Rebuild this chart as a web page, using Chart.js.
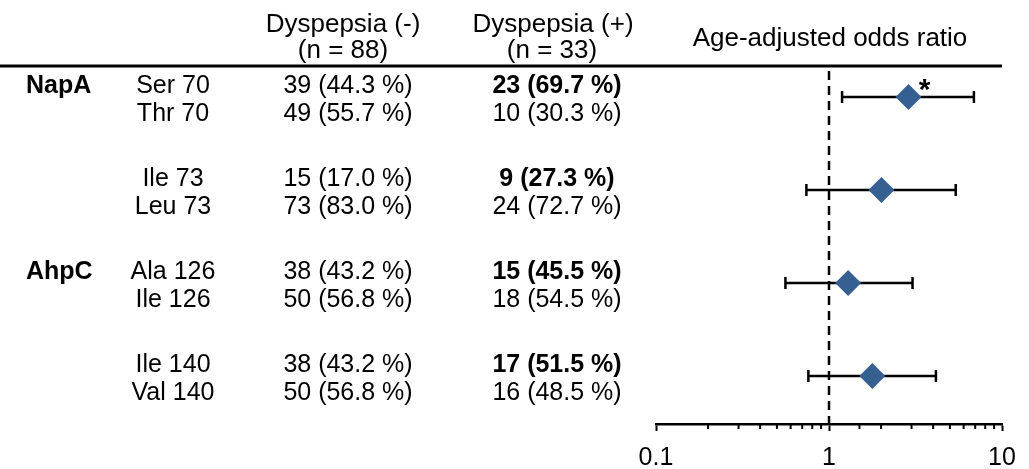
<!DOCTYPE html>
<html>
<head>
  <meta charset="utf-8">
  <title>Dyspepsia forest plot</title>
  <script src="https://cdn.jsdelivr.net/npm/chart.js"></script>
  <style>
    body { margin: 0; padding: 0; background: #fff; }
    #wrap { width: 1029px; height: 469px; }
  </style>
</head>
<body>
  <div id="wrap"><canvas id="forest"></canvas></div>

  <script>
    // --- data ---
    const genes = ['NapA', '', 'AhpC', ''];
    const allelesTop = ['Ser 70', 'Ile 73', 'Ala 126', 'Ile 140'];
    const allelesBottom = ['Thr 70', 'Leu 73', 'Ile 126', 'Val 140'];
    const negTop = ['39 (44.3 %)', '15 (17.0 %)', '38 (43.2 %)', '38 (43.2 %)'];
    const negBottom = ['49 (55.7 %)', '73 (83.0 %)', '50 (56.8 %)', '50 (56.8 %)'];
    const posTop = ['23 (69.7 %)', '9 (27.3 %)', '15 (45.5 %)', '17 (51.5 %)'];
    const posBottom = ['10 (30.3 %)', '24 (72.7 %)', '18 (54.5 %)', '16 (48.5 %)'];
    const headerNeg = ['Dyspepsia (-)', '(n = 88)'];
    const headerPos = ['Dyspepsia (+)', '(n = 33)'];
    const plotTitle = 'Age-adjusted odds ratio';

    const oddsRatio = [2.88, 2.01, 1.29, 1.78];
    const ciLower = [1.19, 0.74, 0.56, 0.76];
    const ciUpper = [6.88, 5.40, 3.04, 4.15];
    const significant = ['*', '', '', ''];
    const refLine = 1;
    const tickLabels = [0.1, 1, 10];

    const FONT = "'Liberation Sans', Arial, sans-serif";
    const BLUE = '#366092';

    function txt(ctx, s, x, y, bold, align, size) {
      ctx.font = (bold ? 'bold ' : '') + (size || 25) + 'px ' + FONT;
      ctx.textAlign = align || 'center';
      ctx.textBaseline = 'middle';
      ctx.fillText(s, x, y);
    }

    const forestPlugin = {
      id: 'forest',
      beforeDatasetsDraw(chart) {
        const { ctx, chartArea, scales: { x, y } } = chart;
        ctx.save();
        ctx.strokeStyle = '#000';
        // dashed reference line at OR = 1
        ctx.lineWidth = 2.5;
        ctx.setLineDash([9, 6]);
        const xr = x.getPixelForValue(refLine);
        ctx.beginPath();
        ctx.moveTo(xr, chartArea.top + 5);
        ctx.lineTo(xr, chartArea.bottom);
        ctx.stroke();
        ctx.setLineDash([]);
        // confidence intervals
        ctx.lineWidth = 2.5;
        oddsRatio.forEach((_, i) => {
          const yp = y.getPixelForValue(i);
          const xl = x.getPixelForValue(ciLower[i]);
          const xu = x.getPixelForValue(ciUpper[i]);
          ctx.beginPath();
          ctx.moveTo(xl, yp); ctx.lineTo(xu, yp);
          ctx.moveTo(xl, yp - 6); ctx.lineTo(xl, yp + 6);
          ctx.moveTo(xu, yp - 6); ctx.lineTo(xu, yp + 6);
          ctx.stroke();
        });
        ctx.restore();
      },
      afterDraw(chart) {
        const { ctx, chartArea, scales: { x, y } } = chart;
        ctx.save();
        ctx.fillStyle = '#000';
        ctx.strokeStyle = '#000';

        // header rule
        ctx.lineWidth = 3;
        ctx.beginPath();
        ctx.moveTo(0, chartArea.top);
        ctx.lineTo(chartArea.right, chartArea.top);
        ctx.stroke();

        // minor ticks (shorter than the major ones)
        ctx.lineWidth = 2;
        x.ticks.forEach(t => {
          if (tickLabels.includes(t.value)) return;
          const xp = x.getPixelForValue(t.value);
          ctx.beginPath();
          ctx.moveTo(xp, chartArea.bottom);
          ctx.lineTo(xp, chartArea.bottom + 5);
          ctx.stroke();
        });

        // headers
        const top = chartArea.top;
        txt(ctx, headerNeg[0], 343, top - 41, false, 'center', 26);
        txt(ctx, headerNeg[1], 343, top - 15.5, false, 'center', 26);
        txt(ctx, headerPos[0], 553, top - 41, false, 'center', 26);
        txt(ctx, headerPos[1], 552, top - 15.5, false, 'center', 26);
        txt(ctx, plotTitle, (chartArea.left + chartArea.right) / 2 + 1, top - 27.5, false, 'center', 26);

        // table rows
        oddsRatio.forEach((_, i) => {
          const y1 = y.getPixelForValue(i - 0.118);
          const y2 = y.getPixelForValue(i + 0.183);
          if (genes[i]) txt(ctx, genes[i], 26, y1, true, 'left');
          txt(ctx, allelesTop[i], 173, y1);
          txt(ctx, allelesBottom[i], 173, y2);
          txt(ctx, negTop[i], 348, y1);
          txt(ctx, negBottom[i], 348, y2);
          txt(ctx, posTop[i], 557, y1, true);
          txt(ctx, posBottom[i], 557, y2);

          if (significant[i]) {
            ctx.font = 'bold 30px ' + FONT;
            ctx.textAlign = 'center';
            ctx.textBaseline = 'alphabetic';
            ctx.fillText(significant[i], x.getPixelForValue(oddsRatio[i]) + 16,
                         y.getPixelForValue(i) + 2);
          }
        });
        ctx.restore();
      }
    };

    new Chart(document.getElementById('forest'), {
      type: 'scatter',
      data: {
        datasets: [{
          data: oddsRatio.map((v, i) => ({ x: v, y: i })),
          pointStyle: 'rectRot',
          radius: 13,
          hoverRadius: 13,
          backgroundColor: BLUE,
          borderWidth: 0,
          clip: false
        }]
      },
      options: {
        responsive: true,
        maintainAspectRatio: false,
        animation: false,
        layout: { padding: { left: 656, right: 27, top: 66, bottom: 0 } },
        plugins: { legend: { display: false }, tooltip: { enabled: false } },
        scales: {
          x: {
            type: 'logarithmic',
            min: 0.1,
            max: 10,
            afterFit: scale => { scale.height = 45; },
            border: { display: true, color: '#000', width: 2.5 },
            grid: {
              drawOnChartArea: false,
              tickLength: 7,
              tickWidth: 2,
              tickColor: c => tickLabels.includes(c.tick.value) ? '#000' : 'rgba(0,0,0,0)'
            },
            ticks: {
              autoSkip: false,
              maxRotation: 0,
              padding: 12,
              color: '#000',
              font: { family: FONT, size: 25 },
              callback: v => tickLabels.includes(v) ? String(v) : ''
            }
          },
          y: {
            display: false,
            reverse: true,
            min: -0.333,
            max: 3.516
          }
        }
      },
      plugins: [forestPlugin]
    });
  </script>
</body>
</html>
